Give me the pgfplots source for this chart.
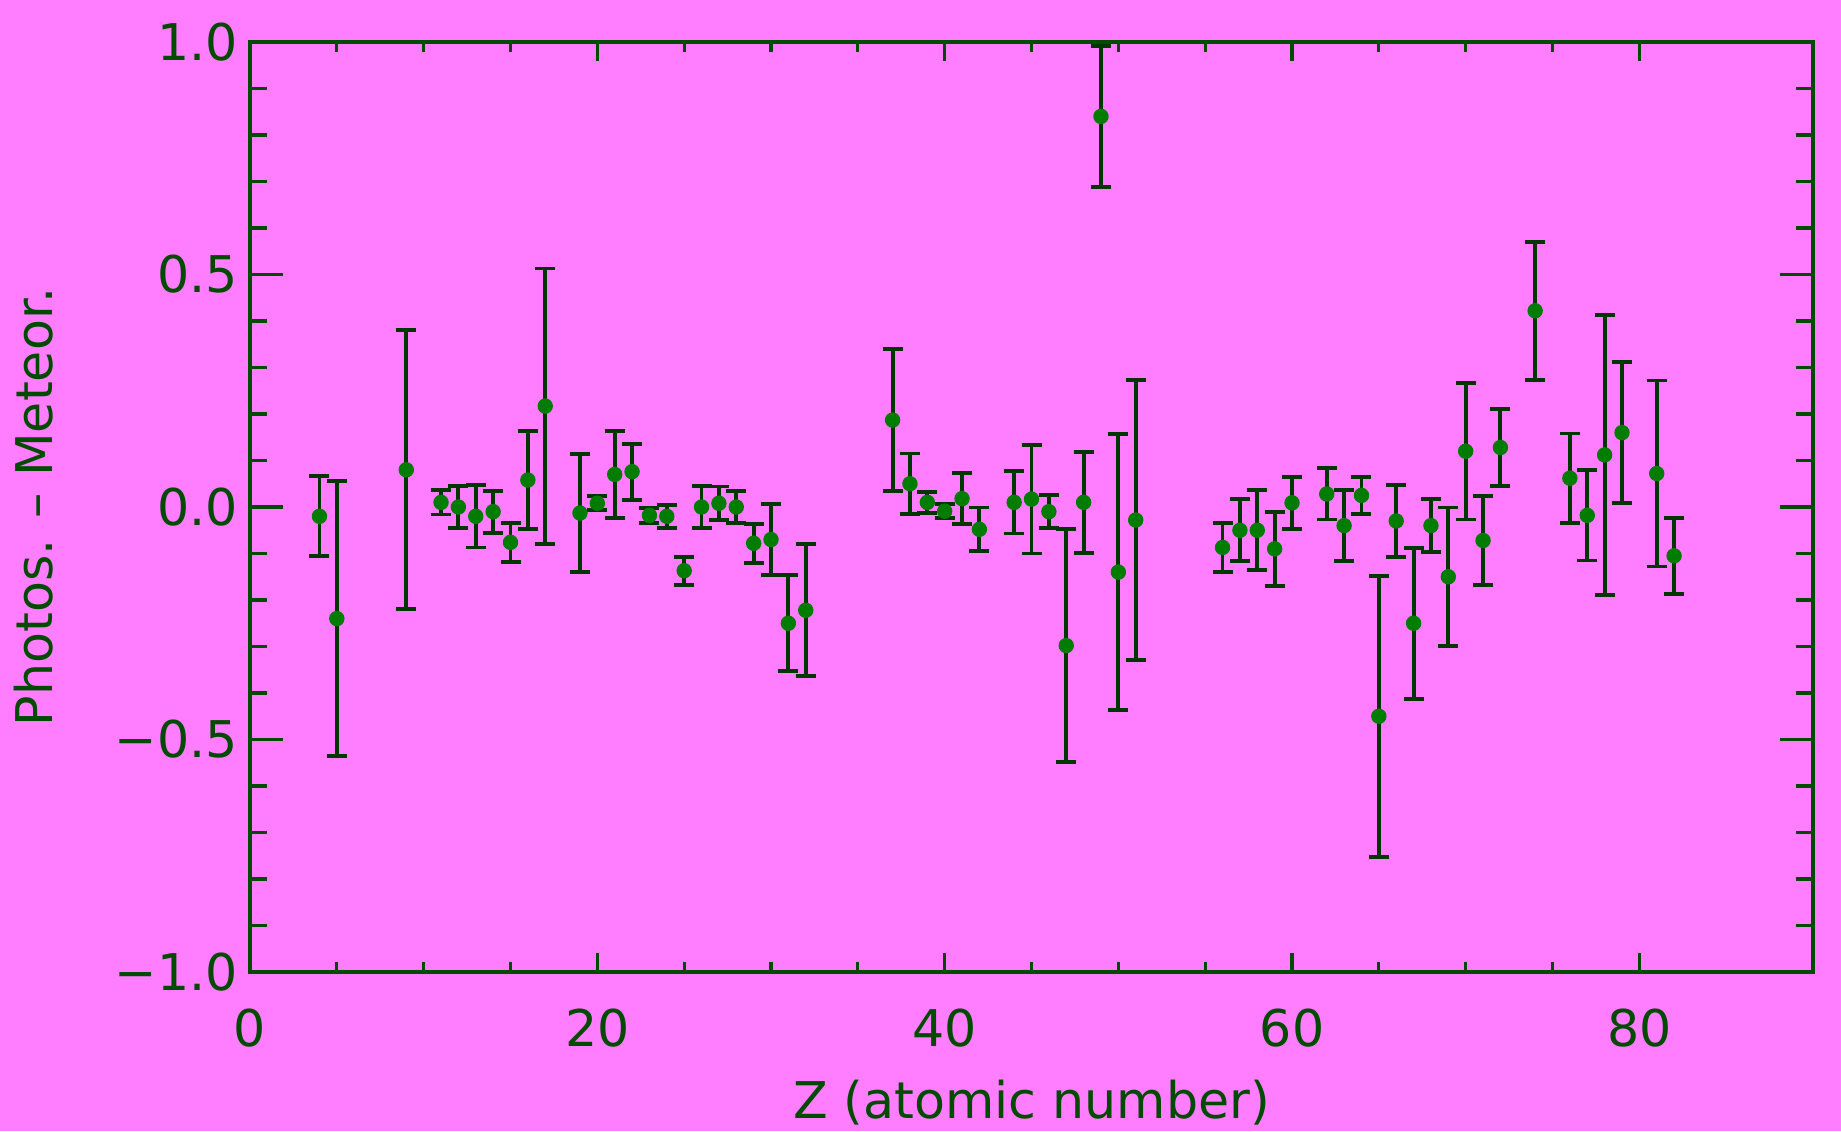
\documentclass[border=0pt]{standalone}
\usepackage{fontspec}
\setmainfont{DejaVu Sans}
\usepackage{pgfplots}
\usepackage{pgfplotstable}
\pgfplotsset{compat=1.18}
\usetikzlibrary{backgrounds}
\definecolor{bg}{RGB}{255,125,255}
\definecolor{dg}{RGB}{0,75,0}
\definecolor{eb}{RGB}{0,55,0}
\definecolor{mk}{RGB}{0,125,0}

\pgfplotstableread{
z v e
4 -0.020 0.086
5 -0.240 0.296
9 0.080 0.300
11 0.010 0.026
12 0.000 0.045
13 -0.020 0.067
14 -0.010 0.045
15 -0.076 0.042
16 0.058 0.105
17 0.217 0.296
19 -0.013 0.127
20 0.008 0.015
21 0.070 0.094
22 0.076 0.060
23 -0.018 0.016
24 -0.020 0.025
25 -0.137 0.030
26 0.000 0.046
27 0.008 0.036
28 0.000 0.035
29 -0.078 0.042
30 -0.070 0.077
31 -0.250 0.103
32 -0.222 0.142
37 0.187 0.153
38 0.050 0.065
39 0.010 0.022
40 -0.009 0.015
41 0.018 0.055
42 -0.048 0.047
44 0.010 0.067
45 0.017 0.117
46 -0.010 0.035
47 -0.298 0.250
48 0.010 0.108
49 0.840 0.152
50 -0.140 0.297
51 -0.028 0.301
56 -0.087 0.052
57 -0.050 0.067
58 -0.050 0.086
59 -0.090 0.080
60 0.009 0.056
62 0.028 0.055
63 -0.040 0.077
64 0.025 0.040
65 -0.450 0.302
66 -0.030 0.077
67 -0.250 0.162
68 -0.040 0.057
69 -0.150 0.149
70 0.120 0.147
71 -0.072 0.096
72 0.128 0.082
74 0.422 0.148
76 0.062 0.096
77 -0.018 0.097
78 0.112 0.301
79 0.160 0.152
81 0.072 0.200
82 -0.105 0.082
}\datatable

\begin{document}
\begin{tikzpicture}[font=\fontsize{14.4}{17}\selectfont]
\pgfplotsset{
  base/.style={
    scale only axis, width=156.3mm, height=93mm,
    xmin=0, xmax=90, ymin=-1, ymax=1,
    axis line style={dg, line width=1pt},
    tick style={dg, line width=0.9pt},
    tick align=inside,
    tick label style={text=dg, font=\fontsize{14.4}{17}\selectfont},
    label style={text=dg, font=\fontsize{14.4}{17}\selectfont, inner sep=0pt},
  },
}
\begin{axis}[base, name=ax,
  xtick=\empty,
  ytick={-1,-0.5,0,0.5,1},
  yticklabels={−1.0,−0.5,0.0,0.5,1.0},
  minor y tick num=4,
  major tick length=3.3mm, minor tick length=1.7mm,
  ylabel={Photos. – Meteor.},
  ylabel style={at={(axis description cs:0,0.5)}, anchor=center, rotate=0, yshift=21.6mm},
]
\addplot[only marks, mark=*, mark size=0.7mm, color=mk,
  error bars/.cd, y dir=both, y explicit,
  error bar style={eb, line width=1.1pt},
  error mark options={rotate=90, eb, mark size=1.0mm, line width=1.1pt}]
  table[x=z, y=v, y error=e] {\datatable};
\end{axis}
\begin{axis}[base,
  ytick=\empty,
  xtick={0,20,40,60,80},
  xticklabels={0,20,40,60,80},
  minor x tick num=3,
  major tick length=1.9mm, minor tick length=1.0mm,
  xticklabel style={yshift=-2.4mm},
  xlabel={Z (atomic number)},
  xlabel style={at={(axis description cs:0.5,0)}, anchor=center, yshift=-13.1mm},
]
\end{axis}
\begin{scope}[on background layer]
\fill[bg] ([shift={(-25mm,-15.9mm)}]ax.south west) rectangle ([shift={(2.8mm,4.2mm)}]ax.north east);
\end{scope}
\end{tikzpicture}
\end{document}
